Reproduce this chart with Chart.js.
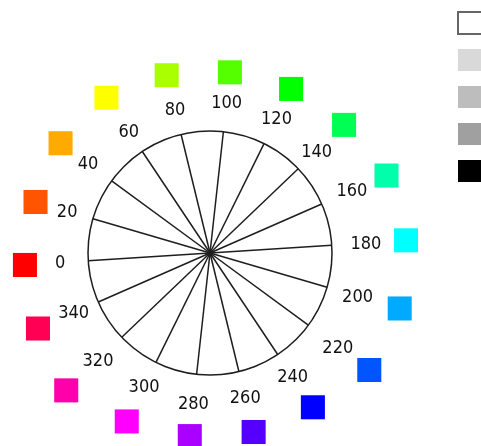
<!DOCTYPE html>
<html>
<head>
<meta charset="utf-8">
<script src="https://cdn.jsdelivr.net/npm/chart.js@4.4.1/dist/chart.umd.min.js"></script>
<style>
  html, body { margin: 0; padding: 0; background: #fff; overflow: hidden; }
  #wrap { width: 481px; height: 446px; }
</style>
</head>
<body>
<div id="wrap"><canvas id="hueChart" width="481" height="446"></canvas></div>
<script>
// Hue angles around the wheel (degrees)
const hues = [0, 20, 40, 60, 80, 100, 120, 140, 160, 180, 200, 220, 240, 260, 280, 300, 320, 340]
const hueLabels = hues.map((h) => String(h))

// Distance of each colour swatch from the centre, in % of the wheel radius
const swatchRing = [152, 149, 152, 153, 150, 149, 150, 152, 158, 161, 162, 162, 152, 151, 151, 154, 163, 154]

// Distance of each hue label from the centre, in % of the wheel radius
const labelRing = [123, 122, 124, 120, 121, 124, 123, 121, 127, 128, 126, 130, 122, 122, 124, 122, 127, 122]

// Grey swatches shown on the right
const shadeColors = ["#ffffff", "#d9d9d9", "#bdbdbd", "#a0a0a0", "#000000"]

const lineColor = "#1e1e1e"
const labelFont = { family: "'DejaVu Sans Condensed', 'DejaVu Sans', sans-serif", size: 18 }

const shadeSets = shadeColors.map((c, i) => ({
  label: "",
  data: [],
  backgroundColor: c,
  borderColor: i === 0 ? "#666666" : c,
  borderWidth: i === 0 ? 2 : 0,
}))

// Hue numbers centred on their spoke direction, just outside the wheel
const hueLabelPlugin = {
  id: "hueLabels",
  afterDatasetsDraw(chart) {
    const scale = chart.scales.r
    const c = chart.ctx
    c.save()
    c.font = `${labelFont.size}px ${labelFont.family}`
    c.fillStyle = "#111111"
    c.textAlign = "center"
    c.textBaseline = "middle"
    hueLabels.forEach((text, i) => {
      const p = scale.getPointPositionForValue(i, labelRing[i])
      c.fillText(text, p.x, p.y + 1)
    })
    c.restore()
  },
}

const ctx = document.getElementById("hueChart").getContext("2d")
new Chart(ctx, {
  type: "radar",
  data: {
    labels: hueLabels,
    datasets: [
      {
        label: "hue",
        data: swatchRing,
        showLine: false,
        fill: false,
        clip: false,
        pointStyle: "rect",
        pointRadius: 17,
        pointHoverRadius: 17,
        pointBorderWidth: 0,
        pointBackgroundColor: hues.map((h) => `hsl(${h}, 100%, 50%)`),
        pointBorderColor: hues.map((h) => `hsl(${h}, 100%, 50%)`),
      },
      ...shadeSets,
    ],
  },
  options: {
    responsive: false,
    animation: false,
    devicePixelRatio: 1,
    layout: {
      autoPadding: false,
      padding: { left: 0, right: -17, top: -3, bottom: 23 },
    },
    scales: {
      r: {
        min: 0,
        max: 100,
        startAngle: 266.3,
        // tick text is blank; its backdrop height keeps the wheel inset inside the chart area
        ticks: {
          display: true,
          stepSize: 100,
          callback: () => "",
          color: "transparent",
          showLabelBackdrop: false,
          font: { size: 8 },
          backdropPadding: { top: 44, bottom: 44, left: 0, right: 0 },
        },
        grid: { circular: true, color: lineColor, lineWidth: 1.5 },
        angleLines: { color: lineColor, lineWidth: 1.5 },
        pointLabels: { display: false },
      },
    },
    plugins: {
      tooltip: { enabled: false },
      // empty title / subtitle only reserve space around the wheel
      title: { display: true, text: "", padding: { top: 74, bottom: 0 }, font: { size: 10 } },
      subtitle: { display: true, text: "", position: "right", weight: 500, padding: { top: 11, bottom: 0 }, font: { size: 10 } },
      legend: {
        position: "right",
        align: "start",
        labels: {
          boxWidth: 24,
          boxHeight: 22,
          padding: 15,
          font: { size: 12 },
          filter: (item) => item.datasetIndex > 0,
        },
      },
    },
  },
  plugins: [hueLabelPlugin],
})
</script>
</body>
</html>
